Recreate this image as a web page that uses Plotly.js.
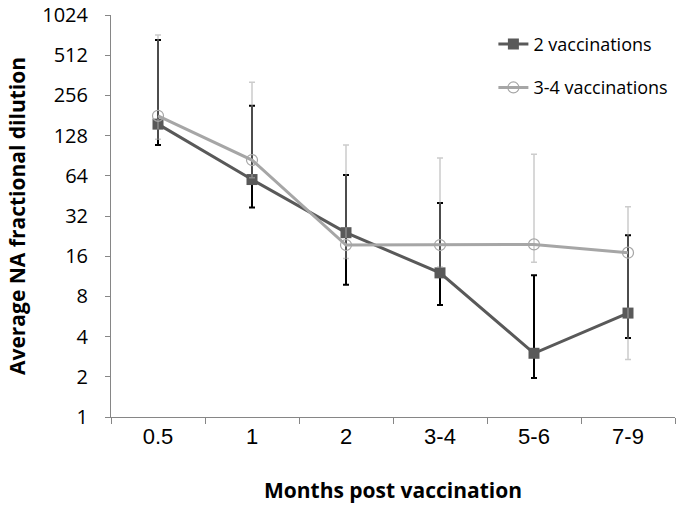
<!DOCTYPE html>
<html>
<head>
<meta charset="utf-8">
<script src="https://cdn.plot.ly/plotly-3.0.1.min.js"></script>
<style>html,body{margin:0;padding:0;background:#fff;}#chart{width:683px;height:510px;}</style>
</head>
<body>
<div id="chart"></div>
<script>
var categories = ["0.5", "1", "2", "3-4", "5-6", "7-9"];

var twoVacc = [156, 60, 24, 12, 3.0, 6.0];
var twoVaccUpper = [666, 214, 65, 40, 11.5, 23];
var twoVaccLower = [109, 37, 9.8, 6.9, 1.96, 3.9];

var threeFourVacc = [180, 84, 19.4, 19.4, 19.6, 17.0];
var threeFourUpper = [725, 321, 109, 87, 93, 37.5];
var threeFourLower = [120, 62, 15.4, 13.3, 14.4, 2.7];

var yTicks = [1, 2, 4, 8, 16, 32, 64, 128, 256, 512, 1024];

function plus(v, u) { return u.map(function (x, i) { return x - v[i]; }); }
function minus(v, l) { return l.map(function (x, i) { return v[i] - x; }); }

var traces = [
  {
    x: categories, y: twoVacc, name: "2 vaccinations", type: "scatter", mode: "lines+markers",
    legendgroup: "a",
    line: {color: "#595959", width: 3},
    marker: {symbol: "square", size: 11, color: "#595959"},
    error_y: {type: "data", symmetric: false, array: plus(twoVacc, twoVaccUpper),
      arrayminus: minus(twoVacc, twoVaccLower), color: "#000000", thickness: 2, width: 3}
  },
  {
    x: categories, y: threeFourVacc, name: "3-4 vaccinations", type: "scatter", mode: "lines+markers",
    legendgroup: "b",
    line: {color: "#a6a6a6", width: 3},
    marker: {symbol: "circle-open", size: 11, color: "#a6a6a6", line: {width: 1.2, color: "#a6a6a6"}},
    error_y: {type: "data", symmetric: false, array: plus(threeFourVacc, threeFourUpper),
      arrayminus: minus(threeFourVacc, threeFourLower), color: "rgba(170,170,170,0.6)", thickness: 1.5, width: 3}
  }
];

var layout = {
  width: 683, height: 510,
  margin: {l: 111, r: 8, t: 15, b: 93},
  paper_bgcolor: "#ffffff", plot_bgcolor: "#ffffff",
  showlegend: true,
  legend: {x: 0.678, y: 0.973, xanchor: "left", yanchor: "top", traceorder: "grouped", tracegroupgap: 17,
    font: {family: "Open Sans, sans-serif", size: 18, color: "#000"}, bgcolor: "rgba(0,0,0,0)", itemwidth: 30},
  xaxis: {
    type: "category", tickson: "boundaries", ticks: "outside", ticklen: 6, tickcolor: "#868686",
    showline: true, linecolor: "#868686", linewidth: 1, showgrid: false, zeroline: false,
    range: [-0.5, 5.5],
    tickfont: {family: "Liberation Sans, Arial, sans-serif", size: 22, color: "#000"},
    title: {text: "Months post vaccination", standoff: 34, font: {family: "Open Sans, sans-serif", size: 21, color: "#000", weight: "bold"}}
  },
  yaxis: {
    type: "log", range: [0, Math.log10(1024)], tickvals: yTicks, ticktext: yTicks.map(String),
    ticks: "outside", ticklen: 5, tickcolor: "#868686", ticklabelstandoff: 13,
    showline: true, linecolor: "#868686", linewidth: 1, showgrid: false, zeroline: false,
    tickfont: {family: "Open Sans, sans-serif", size: 20, color: "#000"},
    title: {text: "Average NA fractional dilution", standoff: 10, font: {family: "Open Sans, sans-serif", size: 21, color: "#000", weight: "bold"}}
  }
};

Plotly.newPlot("chart", traces, layout, {displayModeBar: false, staticPlot: true});
</script>
</body>
</html>
